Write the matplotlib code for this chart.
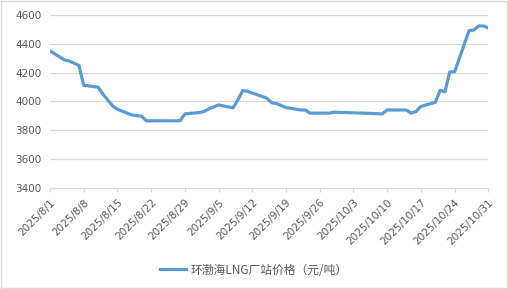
import matplotlib
matplotlib.use("Agg")
import matplotlib.pyplot as plt
import matplotlib.dates as mdates
import pandas as pd

plt.rcParams['font.family'] = ['Noto Sans CJK SC', 'DejaVu Sans']

dates = ["2025-08-01", "2025-08-04", "2025-08-05", "2025-08-07", "2025-08-08",
         "2025-08-11", "2025-08-12", "2025-08-14", "2025-08-15", "2025-08-18",
         "2025-08-20", "2025-08-21", "2025-08-28", "2025-08-29", "2025-09-01",
         "2025-09-02", "2025-09-03", "2025-09-05", "2025-09-08", "2025-09-09",
         "2025-09-10", "2025-09-11", "2025-09-15", "2025-09-16", "2025-09-17",
         "2025-09-19", "2025-09-22", "2025-09-23", "2025-09-24", "2025-09-28",
         "2025-09-29", "2025-10-09", "2025-10-10", "2025-10-14", "2025-10-15",
         "2025-10-16", "2025-10-17", "2025-10-20", "2025-10-21", "2025-10-22",
         "2025-10-23", "2025-10-24", "2025-10-27", "2025-10-28", "2025-10-29",
         "2025-10-30", "2025-10-31"]
prices = [4350, 4288, 4280, 4250, 4112,
          4098, 4050, 3968, 3945, 3905,
          3897, 3865, 3865, 3913, 3922,
          3930, 3948, 3975, 3955, 4010,
          4075, 4070, 4022, 3991, 3985,
          3957, 3940, 3940, 3918, 3918,
          3925, 3913, 3940, 3940, 3918,
          3930, 3964, 3994, 4077, 4066,
          4205, 4205, 4491, 4496, 4524,
          4524, 4510]
series_name = "环渤海LNG厂站价格（元/吨）"
y_ticks = [3400, 3600, 3800, 4000, 4200, 4400, 4600]

x = pd.to_datetime(dates)

fig = plt.figure(figsize=(5.08, 2.89), dpi=100)
fig.patches.append(plt.Rectangle((0.001, 0.002), 0.997, 0.995, transform=fig.transFigure,
                                 fill=False, edgecolor='#d9d9d9', linewidth=1))
ax = fig.add_axes([50/508, 1 - 187.7/289, (488.3-50)/508, (187.7-15)/289])

ax.plot(x, prices, color='#5B9BD5', linewidth=2.3, solid_joinstyle='round')

ax.set_ylim(3400, 4600)
ax.set_yticks(y_ticks)
start = pd.Timestamp("2025-08-01")
end = pd.Timestamp("2025-10-31")
ax.set_xlim(start, end)
xt = pd.date_range(start, end, freq='7D')
ax.set_xticks(xt)
ax.set_xticklabels([f"{d.year}/{d.month}/{d.day}" for d in xt], rotation=45,
                   ha='right', va='top', rotation_mode='anchor', fontsize=7.5,
                   color='#595959', family=['DejaVu Sans'])
ax.tick_params(axis='y', length=0, labelsize=7.5, labelcolor='#595959', pad=6)
ax.tick_params(axis='x', length=3, color='#d9d9d9', pad=4)
for lbl in ax.get_yticklabels():
    lbl.set_family(['DejaVu Sans'])

ax.grid(axis='y', color='#d9d9d9', linewidth=0.9)
ax.set_axisbelow(True)
for s in ['top', 'right', 'left']:
    ax.spines[s].set_visible(False)
ax.spines['bottom'].set_color('#d9d9d9')

leg = fig.legend([ax.lines[0]], [series_name], loc='center', bbox_to_anchor=(0.5, 1 - 270/289),
                 frameon=False, fontsize=8.5, handlelength=2.2, handletextpad=0.4)
for t in leg.get_texts():
    t.set_color('#595959')

fig.savefig("out.png", dpi=100)
